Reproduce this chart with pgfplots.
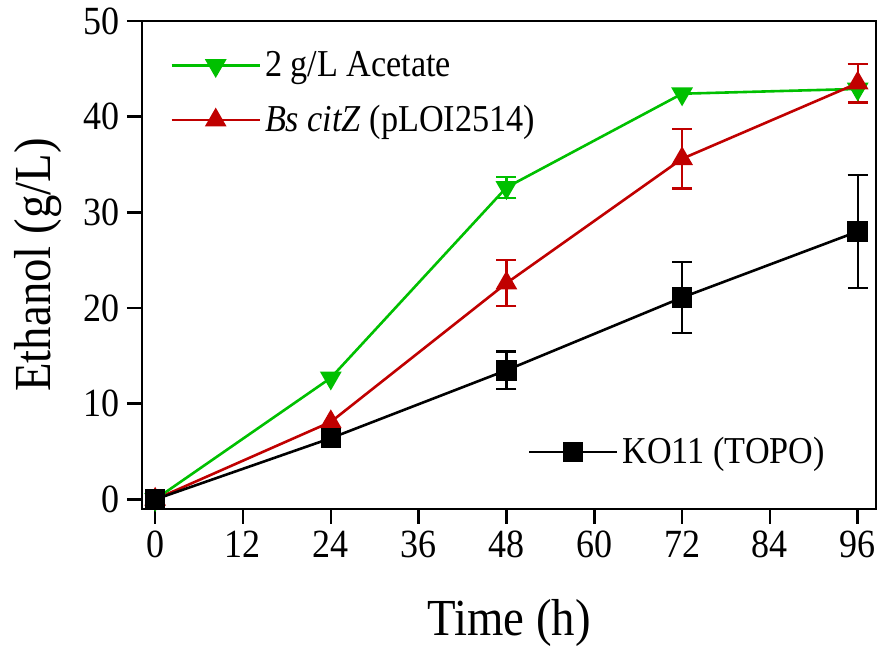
\documentclass[border=0pt]{standalone}
\usepackage{fontspec}
\setmainfont{Liberation Serif}[FakeStretch=0.9]
\usepackage{pgfplots}
\pgfplotsset{compat=1.18}
\definecolor{acegreen}{RGB}{0,192,0}
\definecolor{citred}{RGB}{192,0,0}

\pgfplotsset{
  common/.style={
    scale only axis, width=367pt, height=244pt,
    xmin=-1.8, xmax=98.5, ymin=-1, ymax=50,
  },
  legline/.style={
    legend image code/.code={\draw[mark repeat=2,mark phase=2,##1] plot coordinates {(0pt,0pt) (22pt,0pt) (44pt,0pt)};}
  },
  ebar/.style={forget plot, only marks, mark=none,
    error bars/.cd, y dir=both, y explicit,
    error bar style={#1, line width=1.2pt},
    error mark options={rotate=90, mark size=5pt, line width=1.2pt, #1}},
}

\begin{document}
\begin{tikzpicture}
\begin{axis}[common, name=ax,
  axis line style={line width=1.4pt},
  tick style={line width=1.3pt, black},
  tick align=outside, xtick pos=bottom, ytick pos=left,
  major tick length=7.5pt,
  xtick={0,12,...,96}, ytick={0,10,...,50},
  /pgf/number format/assume math mode=true,
  ticklabel style={font=\fontsize{20}{22}\selectfont},
  xlabel={Time (h)}, ylabel={Ethanol (g/L)},
  label style={font=\fontsize{26}{28}\selectfont},
  xlabel style={yshift=-14pt},
  ylabel style={yshift=4pt},
  legline,
  legend style={draw=none, fill=none, at={(0.03,0.955)}, anchor=north west,
    font=\fontsize{19}{21}\selectfont, row sep=9pt, cells={anchor=west}},
]
\addplot[ebar=acegreen] coordinates {(48,32.6) +- (0,1.1)};
\addplot[ebar=citred] coordinates {(48,22.6) +- (0,2.4) (72,35.6) +- (0,3.1) (96,43.5) +- (0,2.0)};
\addplot[acegreen, line width=1.3pt, mark=triangle*, mark size=5pt, mark options={rotate=180}]
  coordinates {(0,0) (24,12.7) (48,32.6) (72,42.4) (96,42.9)};
\addplot[citred, line width=1.3pt, mark=triangle*, mark size=5pt]
  coordinates {(0,0) (24,8.1) (48,22.6) (72,35.6) (96,43.5)};
\legend{2 g/L Acetate, \textit{Bs citZ} (pLOI2514)}
\end{axis}
\begin{axis}[common, hide axis, legline,
  legend style={draw=none, fill=none, at={(0.517,0.117)}, anchor=west,
    font=\fontsize{19}{21}\selectfont},
]
\addplot[ebar=black] coordinates {(24,6.4) +- (0,0.6) (48,13.5) +- (0,1.95) (72,21.1) +- (0,3.7) (96,28.0) +- (0,5.9)};
\addplot[black, line width=1.3pt, mark=square*, mark size=4.5pt]
  coordinates {(0,0) (24,6.4) (48,13.5) (72,21.1) (96,28.0)};
\legend{KO11 (TOPO)}
\end{axis}
\pgfresetboundingbox
\path (ax.south west) ++(-71pt,-71pt) rectangle (ax.north east);
\path (ax.north east) ++(9.5pt,10.5pt);
\end{tikzpicture}
\end{document}
